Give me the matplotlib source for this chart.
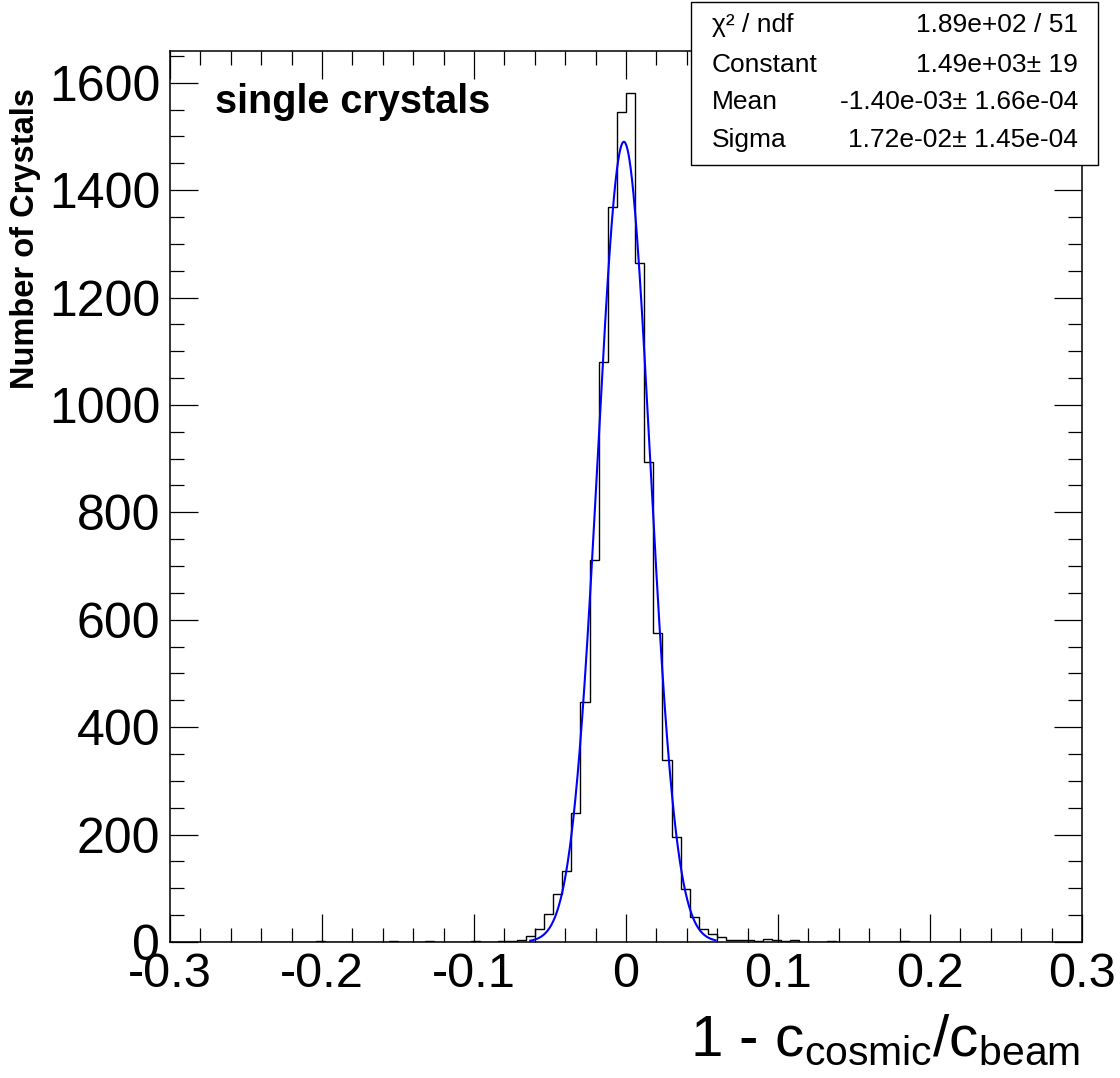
import numpy as np
import matplotlib
matplotlib.use("Agg")
import matplotlib.pyplot as plt
from matplotlib.patches import Rectangle
from matplotlib.ticker import MultipleLocator

plt.rcParams['font.family'] = ['Liberation Sans', 'DejaVu Sans']
plt.rcParams['mathtext.default'] = 'regular'
plt.rcParams['axes.unicode_minus'] = False

# histogram: 100 bins of width 0.006 from -0.3 to 0.3
x_lo, x_hi, n_bins = -0.3, 0.3, 100
counts = [0] * 100
# non-empty bins, index -> entries
filled = {
    16: 1, 24: 1, 28: 1, 33: 1,
    36: 2, 37: 1, 38: 4, 39: 11, 40: 24, 41: 52, 42: 89, 43: 133,
    44: 240, 45: 446, 46: 711, 47: 1080, 48: 1368, 49: 1546,
    50: 1580, 51: 1264, 52: 893, 53: 576, 54: 339, 55: 196,
    56: 99, 57: 46, 58: 24, 59: 15, 60: 9, 61: 4, 62: 3, 63: 3,
    64: 1, 65: 5, 66: 3, 67: 1, 68: 3, 72: 1, 80: 1,
}
for k, v in filled.items():
    counts[k] = v

# gaussian fit result (from the stats box)
fit_const = 1.49e3
fit_mean = -1.40e-3
fit_sigma = 1.72e-2
fit_range = (-0.063, 0.059)

stat_names = ["χ² / ndf", "Constant", "Mean", "Sigma"]
stat_values = ["1.89e+02 / 51", "1.49e+03± 19", "-1.40e-03± 1.66e-04", "1.72e-02± 1.45e-04"]

W, H = 1120, 1078
fig = plt.figure(figsize=(W / 100, H / 100), dpi=100)
ax = fig.add_axes([170 / W, 1 - 942 / H, (1082 - 170) / W, (942 - 51) / H])

edges = np.linspace(x_lo, x_hi, n_bins + 1)
ax.stairs(counts, edges, color='black', lw=1.0)

xf = np.linspace(fit_range[0], fit_range[1], 400)
yf = fit_const * np.exp(-0.5 * ((xf - fit_mean) / fit_sigma) ** 2)
ax.plot(xf, yf, color='blue', lw=1.5)

ax.set_xlim(x_lo, x_hi)
ax.set_ylim(0, 1.05 * max(counts))
ax.xaxis.set_major_locator(MultipleLocator(0.1))
ax.xaxis.set_minor_locator(MultipleLocator(0.02))
ax.yaxis.set_major_locator(MultipleLocator(200))
ax.yaxis.set_minor_locator(MultipleLocator(50))
ax.set_xticks(np.arange(-0.3, 0.31, 0.1))
ax.set_xticklabels(["-0.3", "-0.2", "-0.1", "0", "0.1", "0.2", "0.3"])

ax.tick_params(which='both', direction='in', top=True, right=True, width=0.9)
ax.tick_params(which='major', length=20)
ax.tick_params(which='minor', length=10)
ax.tick_params(axis='x', labelsize=35, pad=7)
ax.tick_params(axis='y', labelsize=36, pad=7)
for s in ax.spines.values():
    s.set_linewidth(1.1)

fig.text(26 / W, 1 - 88 / H, "Number of Crystals", rotation=90, ha='center', va='top',
         fontsize=23.5, fontweight='bold')
fig.text(1080 / W, 1 - 1056 / H, r"1 - c$_{cosmic}$/c$_{beam}$", ha='right', va='baseline',
         fontsize=42)
fig.text(215 / W, 1 - 113 / H, "single crystals", ha='left', va='baseline',
         fontsize=28.5, fontweight='bold')

# stats box
fig.add_artist(Rectangle((691 / W, 1 - 165 / H), (1098 - 691) / W, (165 - 2) / H,
                         transform=fig.transFigure, facecolor='white', edgecolor='black',
                         lw=1.0, zorder=5))
row_y = [25, 65, 102, 140]
for name, val, yy in zip(stat_names, stat_values, row_y):
    fig.text(712 / W, 1 - yy / H, name, ha='left', va='center', fontsize=19, zorder=6)
    fig.text(1078 / W, 1 - yy / H, val, ha='right', va='center', fontsize=19, zorder=6)

fig.savefig("out.png", dpi=100)
